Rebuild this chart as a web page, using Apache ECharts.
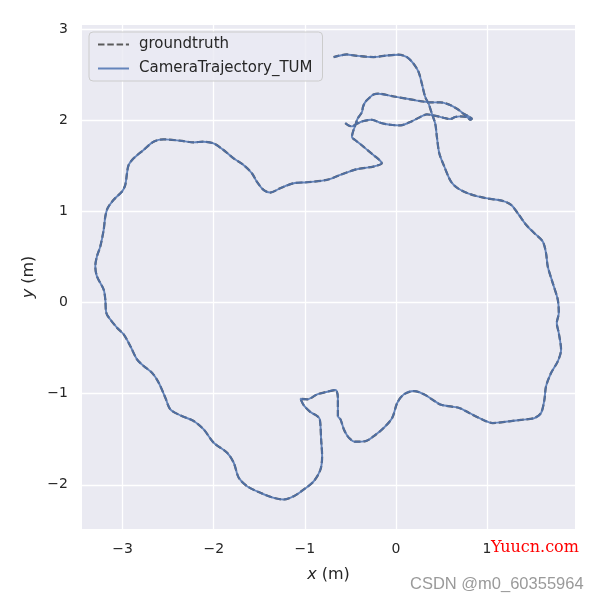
<!DOCTYPE html>
<html><head><meta charset="utf-8">
<script src="https://cdn.jsdelivr.net/npm/echarts@6/dist/echarts.min.js"></script>
<style>html,body{margin:0;padding:0;background:#fff}#c{width:600px;height:602px}</style>
</head><body><div id="c"></div>
<script>
// trajectory (x, y in metres)
const trajX = [
 -0.556,-0.520,-0.483,-0.428,-0.355,-0.263,-0.172,-0.062,0.048,0.157,0.267,0.340,0.413,0.523,0.596,0.651,0.706,0.779,0.816,0.834,
 0.798,0.743,0.670,0.578,0.487,0.377,0.267,0.121,-0.026,-0.190,-0.245,-0.282,-0.337,-0.362,-0.373,-0.421,-0.446,-0.472,-0.483,
 -0.448,-0.357,-0.247,-0.175,-0.155,
 -0.247,-0.430,-0.612,-0.759,-0.978,-1.124,-1.271,-1.380,-1.453,-1.527,-1.581,-1.673,-1.782,-1.892,-2.002,-2.112,-2.221,-2.367,-2.550,-2.660,
 -2.770,-2.879,-2.934,-2.952,-2.971,-3.007,-3.099,-3.165,-3.190,-3.208,-3.245,-3.282,-3.300,-3.282,-3.208,-3.190,-3.179,-3.135,
 -3.062,-2.989,-2.916,-2.842,-2.769,-2.678,-2.604,-2.531,-2.476,-2.366,-2.220,-2.110,-2.000,-1.853,-1.780,-1.725,-1.634,-1.487,
 -1.341,-1.231,-1.121,-1.011,-0.901,-0.828,-0.810,-0.821,-0.835,-0.864,-0.938,-1.011,-1.048,-0.974,-0.864,-0.755,-0.663,-0.637,
 -0.637,-0.608,-0.571,-0.516,-0.443,-0.333,-0.242,-0.132,-0.040,0.015,0.088,0.198,0.308,0.403,0.495,0.696,0.806,0.952,1.062,
 1.245,1.392,1.520,1.593,1.630,1.648,1.703,1.777,1.813,1.788,1.766,1.788,1.777,1.722,1.667,1.648,1.612,1.520,1.429,1.337,1.264,
 1.172,0.989,0.806,0.678,0.604,0.531,0.476,0.450,0.432,0.395,0.359,0.322,0.285,0.249,0.194,0.121,0.029,-0.099,-0.245,-0.465,-0.538,-0.684
];
const trajY = [
 1.971,1.945,1.934,1.963,1.993,2.007,1.974,1.952,1.945,1.982,2.037,2.066,2.055,2.029,2.015,2.037,2.044,2.037,2.007,2.018,
 2.044,2.073,2.128,2.176,2.198,2.198,2.212,2.238,2.263,2.293,2.285,2.256,2.201,2.146,2.091,2.018,1.945,1.872,1.817,
 1.785,1.712,1.620,1.560,1.529,
 1.493,1.464,1.401,1.347,1.321,1.310,1.255,1.208,1.237,1.328,1.420,1.511,1.584,1.675,1.748,1.766,1.759,1.777,1.792,1.766,
 1.675,1.584,1.511,1.420,1.292,1.219,1.128,1.036,0.945,0.799,0.617,0.507,0.398,0.288,0.142,0.033,-0.113,-0.186,
 -0.275,-0.348,-0.476,-0.623,-0.696,-0.769,-0.879,-1.044,-1.172,-1.238,-1.300,-1.392,-1.538,-1.648,-1.758,-1.923,-2.015,-2.088,
 -2.143,-2.161,-2.125,-2.051,-1.960,-1.832,-1.685,-1.502,-1.282,-1.245,-1.201,-1.128,-1.055,-1.062,-1.007,-0.978,-0.960,-1.044,
 -1.245,-1.282,-1.392,-1.484,-1.527,-1.520,-1.465,-1.374,-1.264,-1.099,-1.007,-0.971,-1.007,-1.066,-1.121,-1.157,-1.212,-1.285,-1.322,
 -1.303,-1.285,-1.267,-1.212,-1.066,-0.919,-0.773,-0.645,-0.517,-0.334,-0.225,-0.115,0.031,0.214,0.397,0.543,0.671,0.762,0.854,0.982,1.073,
 1.117,1.146,1.194,1.256,1.329,1.494,1.640,1.817,1.963,2.073,2.183,2.256,2.402,2.531,2.622,2.695,2.721,2.713,2.695,2.713,2.724,2.695
];
const xTicks = [-3, -2, -1, 0, 1];
const yTicks = [-2, -1, 0, 1, 2, 3];
const seriesNames = ['groundtruth', 'CameraTrajectory_TUM'];
const xRange = [-3.446, 1.966];
const yRange = [-2.485, 3.047];

const pts = trajX.map((x, i) => [x, trajY[i]]);
const minus = v => String(v).replace('-', '\u2212');
const FONT = '"DejaVu Sans", sans-serif';
const TXT = '#262626';

const chart = echarts.init(document.getElementById('c'), null, {renderer: 'canvas'});
chart.setOption({
  animation: false,
  backgroundColor: '#ffffff',
  grid: {left: 82, top: 25, right: 25, bottom: 73, show: true, backgroundColor: '#EAEAF2', borderWidth: 0},
  legend: {
    orient: 'vertical', left: 89, top: 32,
    padding: [5, 10, 5, 8], itemGap: 9, itemWidth: 31, itemHeight: 16,
    backgroundColor: 'rgba(234,234,242,0.8)', borderColor: '#cccccc', borderWidth: 1, borderRadius: 4,
    itemStyle: {opacity: 0},
    textStyle: {color: TXT, fontSize: 15, fontFamily: FONT, padding: [0, 0, 0, 5]},
    data: seriesNames
  },
  xAxis: {
    type: 'value', min: xRange[0], max: xRange[1],
    name: '{i|x} (m)', nameLocation: 'middle', nameGap: 38,
    nameTextStyle: {color: TXT, fontSize: 16, fontFamily: FONT, rich: {i: {fontStyle: 'italic', fontSize: 16, fontFamily: FONT, color: TXT}}},
    axisLine: {show: false}, axisTick: {show: false, customValues: xTicks},
    axisLabel: {customValues: xTicks, color: TXT, fontSize: 14, fontFamily: FONT, margin: 13, formatter: minus},
    splitLine: {show: true, lineStyle: {color: '#ffffff', width: 1.3}}
  },
  yAxis: {
    type: 'value', min: yRange[0], max: yRange[1],
    name: '{i|y} (m)', nameLocation: 'middle', nameGap: 44, nameRotate: 90,
    nameTextStyle: {color: TXT, fontSize: 16, fontFamily: FONT, rich: {i: {fontStyle: 'italic', fontSize: 16, fontFamily: FONT, color: TXT}}},
    axisLine: {show: false}, axisTick: {show: false, customValues: yTicks},
    axisLabel: {customValues: yTicks, color: TXT, fontSize: 14, fontFamily: FONT, margin: 14, formatter: minus},
    splitLine: {show: true, lineStyle: {color: '#ffffff', width: 1.3}}
  },
  series: [
    {name: seriesNames[0], type: 'line', data: pts, symbol: 'none', smooth: 0.3, z: 2,
     lineStyle: {color: '#5a5a5a', width: 2.2, type: [6.5, 2.8]}, itemStyle: {color: '#5a5a5a'}},
    {name: seriesNames[1], type: 'line', data: pts, symbol: 'none', smooth: 0.3, z: 3,
     lineStyle: {color: '#4C72B0', width: 1.9, opacity: 0.85}, itemStyle: {color: '#4C72B0'}}
  ],
  graphic: [
    {type: 'text', z: 100, style: {text: 'Yuucn.com', x: 491, y: 548, verticalAlign: 'middle', font: '16px "DejaVu Serif", serif', fill: '#ff0000'}},
    {type: 'text', z: 100, style: {text: 'CSDN @m0_60355964', x: 410, y: 584, verticalAlign: 'middle', font: '16.5px "Liberation Sans", sans-serif', fill: '#9a9a9a'}}
  ]
});
</script>
</body></html>
